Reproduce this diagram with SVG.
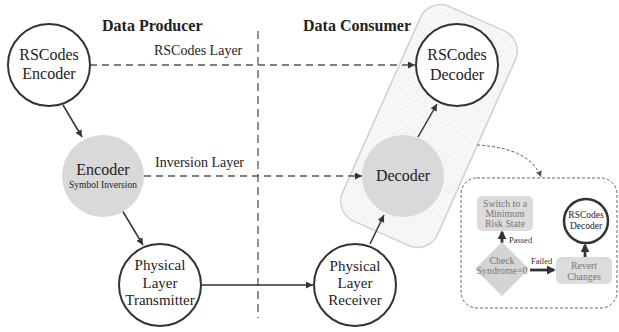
<svg xmlns="http://www.w3.org/2000/svg" width="619" height="332" viewBox="0 0 619 332">
<defs>
<pattern id="hatch" patternUnits="userSpaceOnUse" width="2.6" height="10">
<rect width="2.6" height="10" fill="#ffffff"/>
<line x1="1" y1="0" x2="1" y2="10" stroke="#d4d4d4" stroke-width="0.6"/>
</pattern>
<marker id="ah" viewBox="0 0 10 10" refX="10" refY="5" markerWidth="7" markerHeight="7" markerUnits="userSpaceOnUse" orient="auto">
<path d="M0,0 L10,5 L0,10 z" fill="#333"/>
</marker>
<marker id="ahs" viewBox="0 0 10 10" refX="10" refY="5" markerWidth="6" markerHeight="6" markerUnits="userSpaceOnUse" orient="auto">
<path d="M0,0 L10,5 L0,10 z" fill="#555"/>
</marker>
<marker id="aht" viewBox="0 0 10 10" refX="8" refY="5" markerWidth="9" markerHeight="9" markerUnits="userSpaceOnUse" orient="auto">
<path d="M0,0 L10,5 L0,10 z" fill="#333"/>
</marker>
</defs>
<style>
.t{font-family:"Liberation Serif","Times New Roman",serif;fill:#222;text-anchor:middle}
.b{font-weight:bold;text-anchor:start}
.n16{font-size:16px}
.n15{font-size:15px}
.lab{font-size:14px;text-anchor:start}
.sm{font-size:9.8px;fill:#777}
.tiny{font-size:8.5px;text-anchor:start;fill:#333}
.wc{fill:#fff;stroke:#333;stroke-width:2}
.gc{fill:#d9d9d9;stroke:none}
.gb{fill:#dcdcdc;stroke:none}
.c{stroke:#333;stroke-width:1.5;fill:none}
.d{stroke:#555;stroke-width:1.5;fill:none;stroke-dasharray:7,5}
.tk{stroke:#333;stroke-width:2.8;fill:none}
</style>
<rect width="619" height="332" fill="#fff"/>
<g id="band">
<rect x="-52" y="-117.5" width="104" height="235" rx="22" transform="translate(429,126) rotate(24)" fill="url(#hatch)" stroke="#d2d2d2" stroke-width="1.5"/>
</g>
<g id="divider">
<line x1="258" y1="31" x2="258" y2="318" stroke="#555" stroke-width="1.3" stroke-dasharray="8,5"/>
</g>
<text class="t b n16" x="102" y="30.5">Data Producer</text>
<text class="t b n16" x="303" y="30.5">Data Consumer</text>
<text class="t lab" x="154" y="55">RSCodes Layer</text>
<text class="t lab" x="155" y="167">Inversion Layer</text>
<g id="connectors">
<line class="d" x1="90" y1="65" x2="415" y2="65" marker-end="url(#ah)"/>
<line class="d" x1="144" y1="176" x2="362" y2="176" marker-end="url(#ah)"/>
<line class="c" x1="63" y1="105" x2="82" y2="137" marker-end="url(#ah)"/>
<line class="c" x1="122" y1="210" x2="143" y2="245" marker-end="url(#ah)"/>
<line class="c" x1="202" y1="285" x2="313" y2="285" marker-end="url(#ah)"/>
<line class="c" x1="370" y1="244" x2="384" y2="215" marker-end="url(#ah)"/>
<line class="c" x1="418" y1="137" x2="437" y2="104" marker-end="url(#ah)"/>
<path d="M477,145 Q530,148 541,177" stroke="#555" stroke-width="1" stroke-dasharray="3,2" fill="none" marker-end="url(#ahs)"/>
<line class="tk" x1="502" y1="243" x2="502" y2="232" marker-end="url(#aht)"/>
<line class="tk" x1="530" y1="270" x2="554" y2="270" marker-end="url(#aht)"/>
<line class="tk" x1="585" y1="257" x2="585" y2="245" marker-end="url(#aht)"/>
</g>
<g id="rs-encoder">
<circle class="wc" cx="49" cy="65" r="41"/>
<text class="t n16" x="49" y="60">RSCodes</text>
<text class="t n16" x="49" y="79">Encoder</text>
</g>
<g id="encoder">
<circle class="gc" cx="103" cy="176" r="41"/>
<text class="t n16" x="103" y="175">Encoder</text>
<text class="t" x="103" y="188" style="font-size:9.5px">Symbol Inversion</text>
</g>
<g id="transmitter">
<circle class="wc" cx="160" cy="285" r="41"/>
<text class="t n15" x="160" y="270">Physical</text>
<text class="t n15" x="160" y="288">Layer</text>
<text class="t n15" x="160" y="305">Transmitter</text>
</g>
<g id="receiver">
<circle class="wc" cx="355" cy="285" r="41"/>
<text class="t n15" x="355" y="271">Physical</text>
<text class="t n15" x="355" y="288">Layer</text>
<text class="t n15" x="355" y="305">Receiver</text>
</g>
<g id="decoder">
<circle class="gc" cx="403" cy="176" r="41"/>
<text class="t n16" x="403" y="181">Decoder</text>
</g>
<g id="rs-decoder">
<circle class="wc" cx="457" cy="65" r="41"/>
<text class="t n16" x="457" y="60">RSCodes</text>
<text class="t n16" x="457" y="80">Decoder</text>
</g>
<g id="check-box">
<rect x="461" y="178" width="156" height="130" rx="16" fill="none" stroke="#666" stroke-width="1" stroke-dasharray="3,2"/>
</g>
<g id="switch">
<rect class="gb" x="477" y="196" width="56" height="35" rx="5"/>
<text class="t sm" x="505" y="207">Switch to a</text>
<text class="t sm" x="505" y="217">Minimum</text>
<text class="t sm" x="505" y="227">Risk State</text>
</g>
<text class="t tiny" x="509" y="243">Passed</text>
<g id="check">
<polygon points="502,242 529,269 502,296 475,269" fill="#d4d4d4"/>
<text class="t sm" x="502" y="264">Check</text>
<text class="t sm" x="502" y="274">Syndrome=0</text>
</g>
<text class="t tiny" x="531" y="264">Failed</text>
<g id="revert">
<rect class="gb" x="556" y="257" width="56" height="27" rx="5"/>
<text class="t sm" x="584" y="269">Revert</text>
<text class="t sm" x="584" y="280">Changes</text>
</g>
<g id="rs-decoder-small">
<circle cx="586" cy="221" r="22" fill="#fff" stroke="#333" stroke-width="2.5"/>
<text class="t" x="586" y="218" style="font-size:9.5px">RSCodes</text>
<text class="t" x="586" y="229" style="font-size:9.5px">Decoder</text>
</g>
</svg>
